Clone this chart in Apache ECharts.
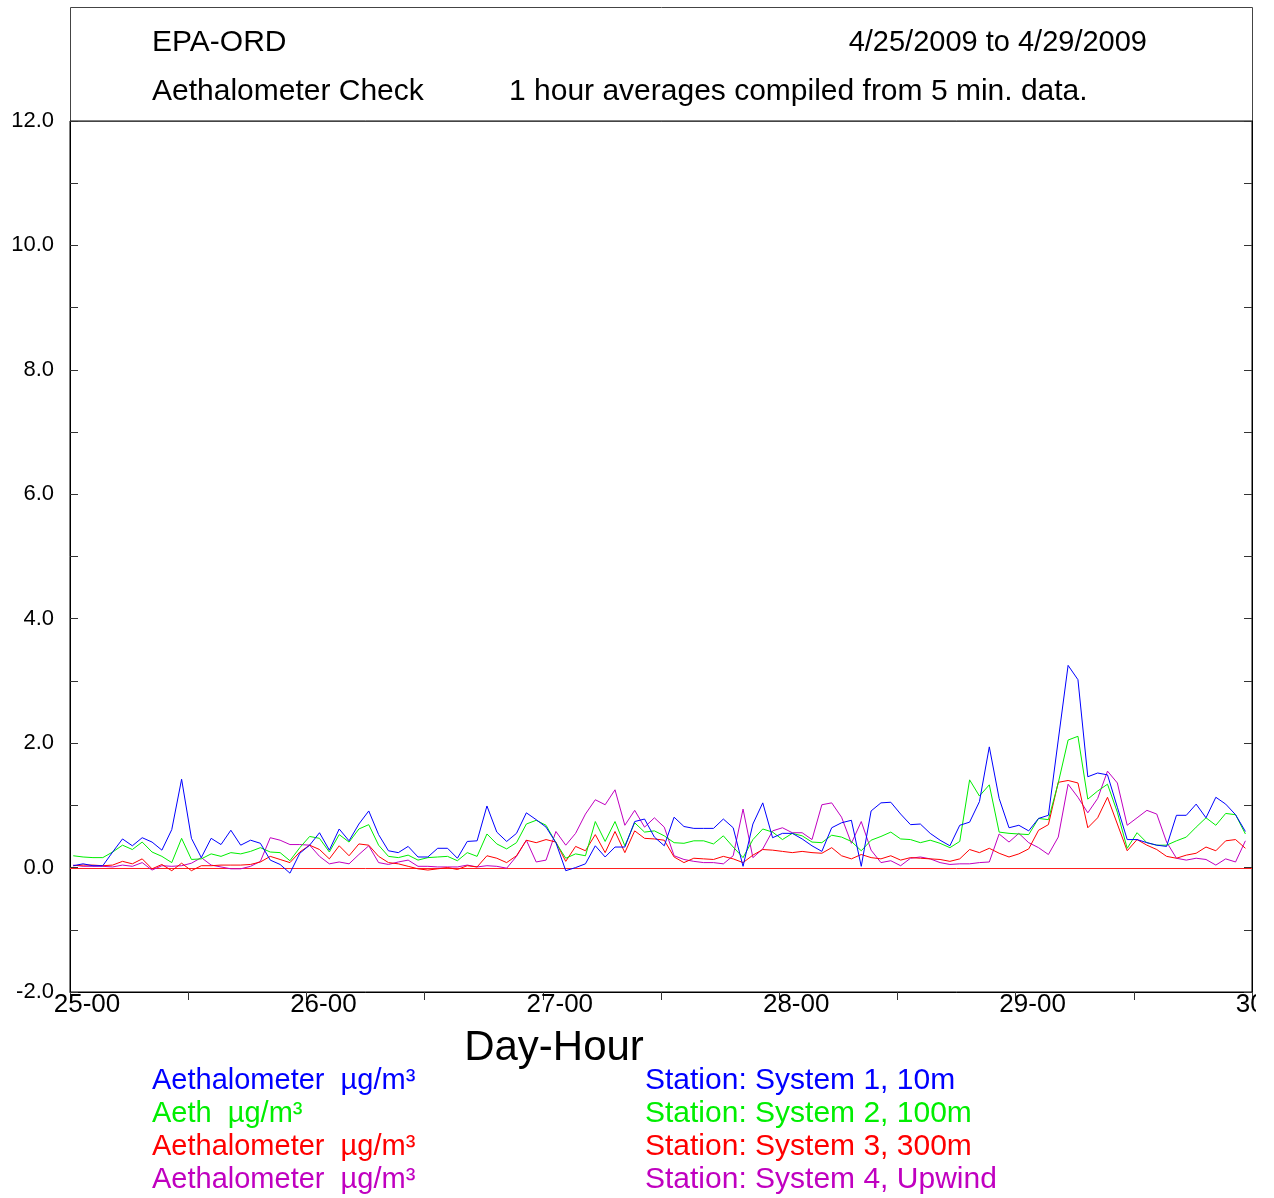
<!DOCTYPE html>
<html>
<head>
<meta charset="utf-8">
<script src="https://cdn.jsdelivr.net/npm/echarts@6/dist/echarts.min.js"></script>
<style>
html,body{margin:0;padding:0;background:#fff;}
#chart{width:1256px;height:1198px;}
</style>
</head>
<body>
<div id="chart"></div>
<script>
// Hourly averages, 4/25/2009 00h .. 4/29/2009 23h (120 hours)
const system1 = [0.03,0.06,0.03,0.03,0.25,0.46,0.35,0.48,0.41,0.28,0.61,1.42,0.47,0.16,0.47,0.37,0.60,0.36,0.44,0.39,0.12,0.05,-0.09,0.23,0.36,
  0.56,0.28,0.62,0.43,0.70,0.91,0.53,0.27,0.24,0.34,0.17,0.17,0.31,0.31,0.15,0.42,0.43,0.99,0.57,0.42,0.55,0.88,0.77,0.65,
  0.40,-0.05,0.00,0.06,0.35,0.17,0.33,0.33,0.74,0.78,0.49,0.35,0.81,0.66,0.63,0.63,0.63,0.78,0.64,0.02,0.70,1.04,0.48,0.55,
  0.55,0.46,0.35,0.26,0.64,0.72,0.76,0.02,0.91,1.04,1.05,0.86,0.69,0.70,0.55,0.44,0.35,0.68,0.73,1.06,1.94,1.11,0.64,0.68,
  0.59,0.79,0.84,2.05,3.25,3.02,1.46,1.52,1.49,0.97,0.45,0.45,0.40,0.36,0.34,0.84,0.84,1.02,0.80,1.13,1.02,0.85,0.58];
const system2 = [0.19,0.17,0.16,0.16,0.25,0.36,0.29,0.41,0.25,0.18,0.08,0.47,0.13,0.14,0.22,0.18,0.24,0.22,0.26,0.32,0.25,0.24,0.11,0.32,0.50,
  0.47,0.25,0.53,0.41,0.62,0.69,0.36,0.18,0.16,0.20,0.12,0.16,0.17,0.18,0.11,0.24,0.18,0.54,0.38,0.30,0.40,0.70,0.76,0.68,
  0.40,0.15,0.22,0.19,0.74,0.42,0.74,0.35,0.72,0.57,0.59,0.51,0.40,0.39,0.43,0.43,0.38,0.51,0.33,0.16,0.45,0.62,0.57,0.45,
  0.55,0.51,0.41,0.40,0.52,0.49,0.42,0.27,0.44,0.50,0.57,0.46,0.45,0.40,0.44,0.39,0.32,0.42,1.41,1.15,1.33,0.57,0.55,0.54,
  0.53,0.79,0.77,1.36,2.05,2.11,1.10,1.23,1.34,0.89,0.31,0.56,0.40,0.36,0.36,0.43,0.49,0.65,0.80,0.68,0.87,0.85,0.54];
const system3 = [0.03,0.04,0.04,0.03,0.04,0.10,0.06,0.14,-0.02,0.05,-0.05,0.07,-0.05,0.03,0.03,0.04,0.04,0.04,0.05,0.09,0.18,0.13,0.08,0.25,0.36,
  0.29,0.14,0.35,0.19,0.38,0.36,0.18,0.08,0.06,0.02,-0.02,-0.04,-0.02,0.00,-0.03,0.03,0.01,0.19,0.15,0.08,0.19,0.44,0.40,0.45,
  0.41,0.10,0.34,0.27,0.53,0.24,0.58,0.24,0.59,0.47,0.46,0.44,0.17,0.08,0.15,0.14,0.13,0.18,0.14,0.08,0.20,0.29,0.28,0.26,
  0.24,0.26,0.24,0.23,0.32,0.19,0.14,0.21,0.16,0.14,0.19,0.12,0.16,0.15,0.14,0.13,0.10,0.14,0.29,0.24,0.31,0.23,0.17,0.22,
  0.30,0.60,0.69,1.37,1.40,1.36,0.64,0.80,1.13,0.70,0.27,0.45,0.36,0.29,0.18,0.15,0.20,0.23,0.33,0.27,0.43,0.45,0.31];
const system4 = [0.04,0.02,0.02,0.02,0.01,0.04,0.02,0.08,-0.04,0.03,0.02,0.03,0.07,0.16,0.04,0.01,-0.02,-0.02,0.02,0.10,0.48,0.44,0.37,0.37,0.36,
  0.18,0.06,0.09,0.06,0.21,0.35,0.08,0.05,0.09,0.12,0.02,0.02,0.01,0.01,0.01,0.04,0.01,0.03,0.02,-0.01,0.18,0.44,0.09,0.12,
  0.58,0.36,0.55,0.86,1.09,1.01,1.25,0.68,0.92,0.65,0.80,0.65,0.19,0.13,0.10,0.08,0.08,0.06,0.19,0.94,0.16,0.30,0.59,0.64,
  0.56,0.56,0.45,1.01,1.04,0.81,0.39,0.74,0.28,0.08,0.11,0.03,0.15,0.17,0.14,0.08,0.05,0.06,0.06,0.08,0.09,0.54,0.41,0.55,
  0.40,0.32,0.21,0.49,1.34,1.13,0.88,1.11,1.55,1.36,0.68,0.80,0.92,0.86,0.41,0.15,0.12,0.15,0.13,0.04,0.14,0.09,0.43];

const firstDay = 25;
const hourOffset = 0.33;
const seriesNames = ['System 1, 10m','System 2, 100m','System 3, 300m','System 4, Upwind'];
const legendLeft = ['Aethalometer  µg/m³','Aeth  µg/m³','Aethalometer  µg/m³','Aethalometer  µg/m³'];
const colors = ['#0000ff','#00ee00','#ff0000','#c000c0'];
const allSeries = [system1, system2, system3, system4];

const FONT = "'Liberation Sans', Arial, sans-serif";
const chart = echarts.init(document.getElementById('chart'), null, {renderer:'canvas'});

function toPairs(arr){ return arr.map((v,i)=>[i+hourOffset, v]); }

const series = allSeries.map((arr,k)=>({
  name: seriesNames[k],
  type:'line',
  data: toPairs(arr),
  showSymbol:false,
  symbol:'none',
  lineStyle:{color:colors[k], width:1},
  itemStyle:{color:colors[k]},
  z: 10 - k,
  animation:false
}));

const graphics = [
  {type:'rect', shape:{x:70.5,y:7.5,width:1182,height:114}, style:{fill:null, stroke:'#444', lineWidth:1}, silent:true},
  {type:'text', x:152, y:43, style:{text:'EPA-ORD', font:'30px '+FONT, fill:'#000', textVerticalAlign:'middle'}},
  {type:'text', x:1147, y:43, style:{text:'4/25/2009 to 4/29/2009', font:'29px '+FONT, fill:'#000', textAlign:'right', textVerticalAlign:'middle'}},
  {type:'text', x:152, y:92, style:{text:'Aethalometer Check', font:'30px '+FONT, fill:'#000', textVerticalAlign:'middle'}},
  {type:'text', x:509, y:92, style:{text:'1 hour averages compiled from 5 min. data.', font:'30px '+FONT, fill:'#000', textVerticalAlign:'middle'}},
  {type:'text', x:554, y:1048, style:{text:'Day-Hour', font:'42px '+FONT, fill:'#000', textAlign:'center', textVerticalAlign:'middle'}}
];
const rowY = [1081,1114,1147,1180];
for (let k=0;k<4;k++){
  graphics.push({type:'text', x:152, y:rowY[k], style:{text:legendLeft[k], font:'29px '+FONT, fill:colors[k], textVerticalAlign:'middle'}});
  graphics.push({type:'text', x:645, y:rowY[k], style:{text:'Station: '+seriesNames[k], font:'30px '+FONT, fill:colors[k], textVerticalAlign:'middle'}});
}

const yCommon = {
  type:'value', min:-2, max:12, interval:1,
  splitLine:{show:false},
  axisLine:{show:true, onZero:false, lineStyle:{color:'#000', width:1}},
  axisTick:{show:true, inside:true, length:8, lineStyle:{color:'#333'}}
};

chart.setOption({
  backgroundColor:'#fff',
  animation:false,
  grid:{left:70, right:4, top:121, bottom:206, show:true, borderColor:'#000', borderWidth:1,
        backgroundColor:'transparent', containLabel:false, outerBoundsMode:'none'},
  xAxis:{
    type:'value', min:0, max:120, interval:12,
    splitLine:{show:false},
    axisLine:{show:true, onZero:false, lineStyle:{color:'#000'}},
    axisTick:{show:true, inside:false, length:8, lineStyle:{color:'#333'}},
    axisLabel:{
      fontFamily:FONT, fontSize:26, color:'#000', margin:0,
      align:'center', verticalAlign:'top', padding:[0,0,0,34],
      formatter:(v)=> (v%24===0) ? String(firstDay + v/24) + '-00' : ''
    }
  },
  yAxis:[
    Object.assign({}, yCommon, {position:'left',
      axisLabel:{fontFamily:FONT, fontSize:22, color:'#000', margin:16,
        formatter:(v)=> (Math.round(v)%2===0) ? v.toFixed(1) : ''}}),
    Object.assign({}, yCommon, {position:'right', axisLabel:{show:false}})
  ],
  series: series,
  graphic: graphics
});

// red zero reference line, positioned through the chart's own scales
const p0 = chart.convertToPixel({xAxisIndex:0, yAxisIndex:0}, [0, 0]);
const p1 = chart.convertToPixel({xAxisIndex:0, yAxisIndex:0}, [120, 0]);
graphics.push({type:'line', shape:{x1:p0[0], y1:Math.round(p0[1])+0.5, x2:p1[0], y2:Math.round(p1[1])+0.5},
  style:{stroke:'#ff2020', lineWidth:1}, z:1, silent:true});
chart.setOption({graphic: graphics});
</script>
</body>
</html>
